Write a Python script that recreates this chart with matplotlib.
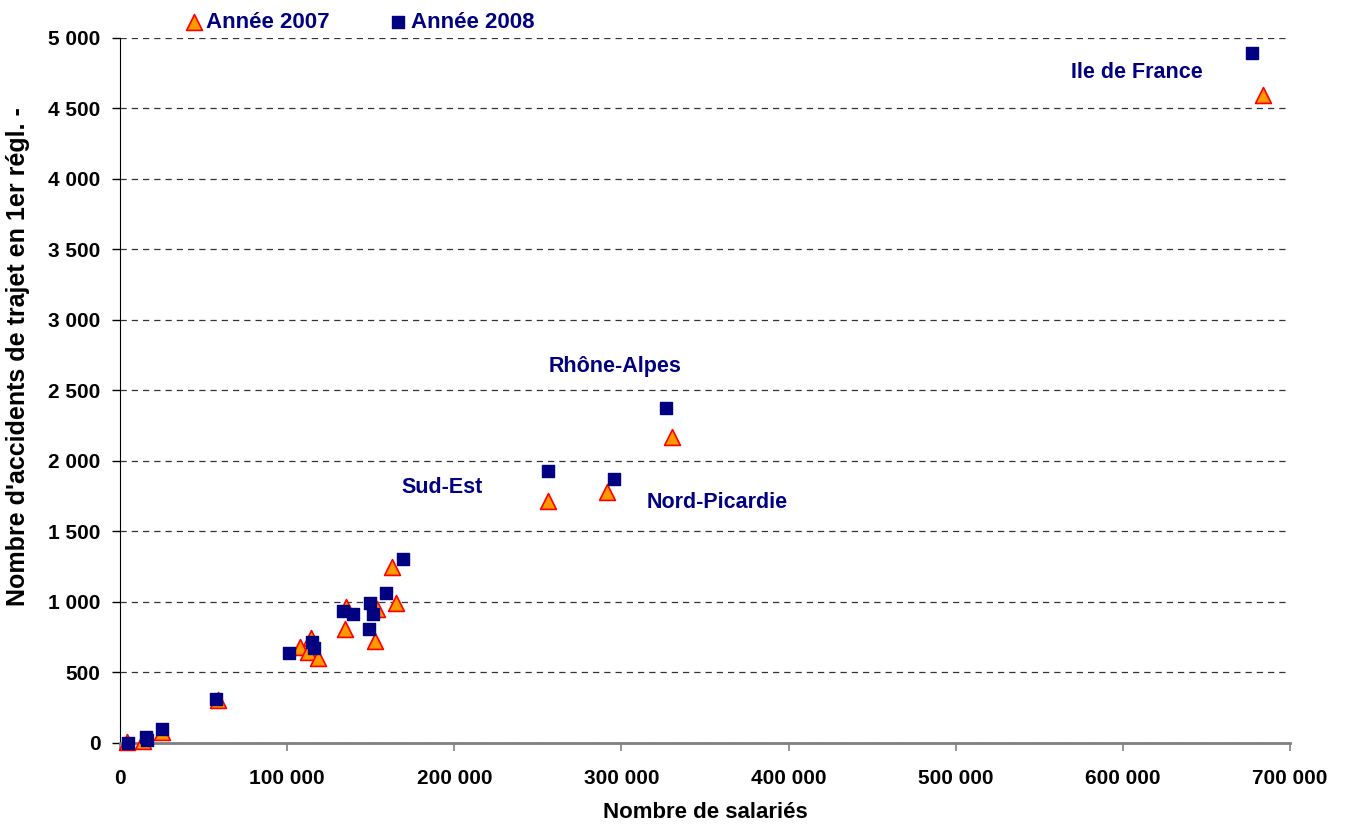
import matplotlib.pyplot as plt
from matplotlib.ticker import FuncFormatter

plt.rcParams['font.family'] = ['Liberation Sans', 'DejaVu Sans']

# Année 2007 (triangles)
x_2007 = [4400, 13900, 24900, 58800, 107700, 112700, 114300, 118600, 134600, 135200,
          153600, 152600, 162900, 165100, 256000, 291400, 330300, 683900]
y_2007 = [10, 15, 80, 305, 679, 648, 745, 600, 806, 967,
          948, 726, 1250, 995, 1716, 1780, 2170, 4596]

# Année 2008 (squares)
x_2008 = [4600, 15400, 15900, 25100, 57400, 101300, 114900, 115800, 133600, 139600,
          149600, 151600, 149000, 159100, 169100, 256000, 295600, 326700, 677300]
y_2008 = [0, 45, 20, 100, 310, 640, 718, 672, 938, 915,
          995, 915, 806, 1066, 1307, 1929, 1872, 2376, 4894]

region_labels = ["Ile de France", "Rhône-Alpes", "Sud-Est", "Nord-Picardie"]
label_x = [608500, 296200, 192700, 357200]
label_y = [4752, 2667, 1809, 1702]

navy = "#000080"

def fmt(v, pos):
    return f"{int(v):,}".replace(",", " ")

fig = plt.figure(figsize=(13.48, 8.25), dpi=100)
ax = fig.add_axes([0.089, 0.0994, 0.868, 0.8546])

ax.scatter(x_2007, y_2007, marker="^", s=130, facecolor="#FF9900",
           edgecolor="red", linewidth=1.2, zorder=3, clip_on=False, label="Année 2007")
ax.scatter(x_2008, y_2008, marker="s", s=80, facecolor=navy,
           edgecolor=navy, zorder=4, clip_on=False, label="Année 2008")

for t, lx, ly in zip(region_labels, label_x, label_y):
    ax.text(lx, ly, t, color=navy, fontsize=15.5, fontweight="bold",
            ha="center", va="center")

ax.set_xlim(0, 700000)
ax.set_ylim(0, 5000)
ax.set_xticks(range(0, 700001, 100000))
ax.set_yticks(range(0, 5001, 500))
ax.xaxis.set_major_formatter(FuncFormatter(fmt))
ax.yaxis.set_major_formatter(FuncFormatter(fmt))
ax.yaxis.grid(True, linestyle=(0, (5, 4)), color="#333333", linewidth=0.9)
ax.set_axisbelow(True)

for s in ["top", "right"]:
    ax.spines[s].set_visible(False)
ax.spines["left"].set_color("black")
ax.spines["bottom"].set_color("#808080")
ax.spines["bottom"].set_linewidth(2)
ax.tick_params(axis="x", direction="out", length=6, width=1.2, color="#808080", pad=13)
ax.tick_params(axis="y", direction="out", length=6, width=1, pad=8)
for lab in ax.get_xticklabels() + ax.get_yticklabels():
    lab.set_fontweight("bold")
    lab.set_fontsize(15)

ax.set_xlabel("Nombre de salariés", fontsize=16, fontweight="bold", labelpad=10)
ax.set_ylabel("Nombre d'accidents de trajet en 1er régl. -", fontsize=18,
              fontweight="bold")
ax.yaxis.set_label_coords(-0.077, 0.5475)

leg = fig.legend(loc="upper left", bbox_to_anchor=(0.1206, 1.01), ncol=2, frameon=False,
                 prop={"weight": "bold", "size": 16}, handlelength=1.0,
                 handletextpad=0.05, columnspacing=2.6, markerscale=1.0)
for t in leg.get_texts():
    t.set_color(navy)

fig.savefig("out.png", dpi=100)
